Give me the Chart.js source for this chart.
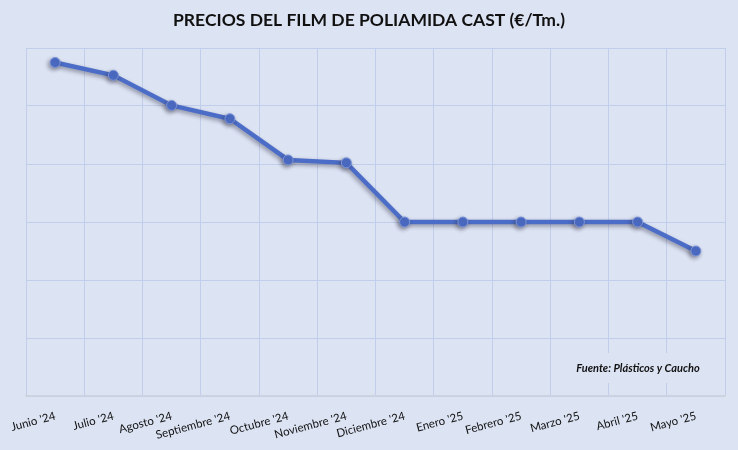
<!DOCTYPE html>
<html>
<head>
<meta charset="utf-8">
<script src="https://cdn.jsdelivr.net/npm/chart.js@4"></script>
<style>
  html, body { margin: 0; padding: 0; background: #dce3f3; }
  #wrap { width: 738px; height: 450px; }
</style>
</head>
<body>
<div id="wrap"><canvas id="precios"></canvas></div>
<script>
// values (hidden y axis, relative units)
const months = ["Junio '24", "Julio '24", "Agosto '24", "Septiembre '24", "Octubre '24", "Noviembre '24",
                "Diciembre '24", "Enero '25", "Febrero '25", "Marzo '25", "Abril '25", "Mayo '25"];
const prices = [5.75, 5.53, 5.01, 4.78, 4.07, 4.02, 3.0, 3.0, 3.0, 3.0, 3.0, 2.5];
const yMin = 0;
const yMax = 6;

const bg = '#dce3f3';
const gridColor = '#c0cdeb';

// soft shadow under the line and markers
const shadow = {
  id: 'shadow',
  beforeDatasetDraw(chart) {
    const ctx = chart.ctx;
    ctx.save();
    ctx.shadowColor = 'rgba(40,40,60,0.45)';
    ctx.shadowBlur = 4;
    ctx.shadowOffsetX = -1.5;
    ctx.shadowOffsetY = 2;
  },
  afterDatasetDraw(chart) {
    chart.ctx.restore();
  }
};

// source note, sits on its own box over the grid
const source = {
  id: 'source',
  beforeDatasetsDraw(chart) {
    const ctx = chart.ctx;
    ctx.save();
    ctx.fillStyle = bg;
    ctx.fillRect(571, 353, 133, 30);
    ctx.font = 'italic bold 11px Lato';
    ctx.fillStyle = '#111';
    ctx.textAlign = 'center';
    ctx.textBaseline = 'middle';
    ctx.fillText('Fuente: Plásticos y Caucho', 638, 368);
    ctx.restore();
  }
};

new Chart(document.getElementById('precios'), {
  type: 'line',
  data: {
    labels: months,
    datasets: [{
      data: prices,
      borderColor: '#4c6dc7',
      borderWidth: 4.5,
      pointRadius: 5,
      pointHoverRadius: 5,
      pointBackgroundColor: '#4c6dc7',
      pointBorderColor: '#7d95d9',
      pointBorderWidth: 1,
      tension: 0
    }]
  },
  options: {
    responsive: true,
    maintainAspectRatio: false,
    animation: false,
    layout: { padding: { left: 13, right: 13 } },
    plugins: {
      legend: { display: false },
      tooltip: { enabled: false },
      title: {
        display: true,
        text: 'PRECIOS DEL FILM DE POLIAMIDA CAST (€/Tm.)',
        color: '#111',
        font: { family: 'Lato', size: 17.5, weight: 'bold' },
        padding: { top: 10, bottom: 17 }
      }
    },
    scales: {
      x: {
        offset: true,
        grid: { offset: true, color: gridColor, lineWidth: 1, drawTicks: false },
        border: { color: '#cfd3de', width: 1.5 },
        ticks: {
          color: '#111',
          font: { family: 'Lato', size: 11.5 },
          minRotation: 15,
          maxRotation: 15,
          padding: 13,
          autoSkip: false
        },
        afterFit(scale) {
          scale.height = 54;
          scale.paddingLeft = 0;
          scale.paddingRight = 0;
        }
      },
      y: {
        min: yMin,
        max: yMax,
        ticks: { display: false, stepSize: 1 },
        grid: { color: gridColor, lineWidth: 1, drawTicks: false },
        border: { display: false },
        afterFit(scale) { scale.width = 13; }
      }
    }
  },
  plugins: [shadow, source]
});
</script>
</body>
</html>
